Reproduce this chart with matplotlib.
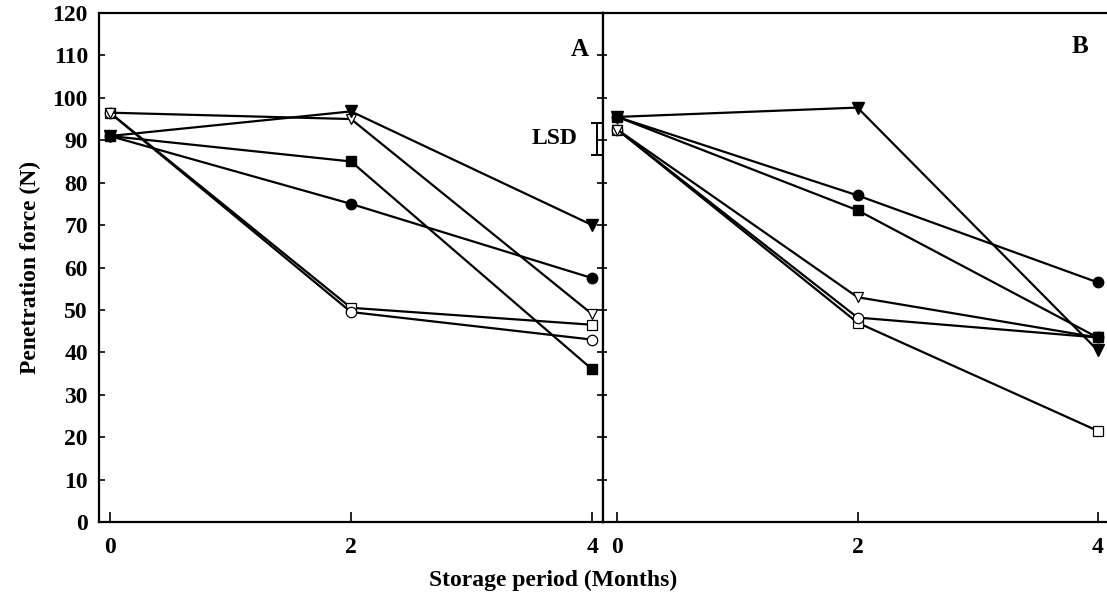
import matplotlib.pyplot as plt

plt.rcParams['font.family'] = 'Liberation Serif'
plt.rcParams['font.weight'] = 'bold'

months = [0, 2, 4]

# Panel A
a_filled_circle = [91, 75, 57.5]
a_filled_square = [91, 85, 36]
a_filled_tri = [91, 96.8, 70]
a_open_tri = [96.5, 95, 49]
a_open_circle = [96.5, 49.5, 43]
a_open_square = [96.5, 50.5, 46.5]

# Panel B
b_filled_circle = [95.5, 77, 56.5]
b_filled_square = [95.5, 73.5, 43.5]
b_filled_tri = [95.5, 97.7, 40.5]
b_open_tri = [92.5, 53, 43.5]
b_open_circle = [92.5, 48.2, 43.5]
b_open_square = [92.5, 47, 21.5]

lsd_center = 90.3
lsd_half = 3.7

fig = plt.figure(figsize=(11.07, 6.01), dpi=100)
W, H = 1107, 601
axA = fig.add_axes([99 / W, 1 - 522 / H, 504 / W, 509 / H])
axB = fig.add_axes([603 / W, 1 - 522 / H, 503 / W, 509 / H])


def draw(ax, fc, fs, ft, ot, oc, osq):
    kw = dict(color='black', linewidth=1.6, markersize=7.5, clip_on=False)
    ax.plot(months, osq, marker='s', markerfacecolor='white', markeredgecolor='black', markeredgewidth=0.9, **kw)
    ax.plot(months, oc, marker='o', markerfacecolor='white', markeredgecolor='black', markeredgewidth=0.9, **kw)
    ax.plot(months, ot, marker='v', markerfacecolor='white', markeredgecolor='black', markeredgewidth=0.9, **kw)
    ax.plot(months, fs, marker='s', markerfacecolor='black', **kw)
    ax.plot(months, fc, marker='o', markerfacecolor='black', **kw)
    ax.plot(months, ft, marker='v', markerfacecolor='black', markersize=8.5,
            **{k: v for k, v in kw.items() if k != 'markersize'})


draw(axA, a_filled_circle, a_filled_square, a_filled_tri, a_open_tri, a_open_circle, a_open_square)
draw(axB, b_filled_circle, b_filled_square, b_filled_tri, b_open_tri, b_open_circle, b_open_square)

axA.set_xlim(-0.09, 4.09)
axB.set_xlim(-0.12, 4.07)
for ax in (axA, axB):
    ax.set_ylim(0, 120)
    ax.set_xticks(months)
    ax.set_yticks(range(0, 121, 10))
    ax.tick_params(axis='x', direction='in', length=7, width=1.2, labelsize=17, pad=11)
    ax.tick_params(axis='y', direction='in', length=4, width=1.2, labelsize=17, pad=8)
    for s in ax.spines.values():
        s.set_linewidth(1.6)

axA.tick_params(axis='y', right=True)
axB.tick_params(axis='y', labelleft=False, length=3)
axB.spines['right'].set_visible(False)

axA.set_ylabel('Penetration force (N)', fontsize=17, fontweight='bold', labelpad=8)
fig.text(553 / W, 1 - 580 / H, 'Storage period (Months)', ha='center', va='center',
         fontsize=17, fontweight='bold')

axA.text(3.9, 111.5, 'A', ha='center', va='center', fontsize=18, fontweight='bold')
axB.text(3.85, 112, 'B', ha='center', va='center', fontsize=18, fontweight='bold')

# LSD bar
axA.errorbar([4.04], [lsd_center], yerr=[lsd_half], color='black', capsize=4,
             elinewidth=1.4, capthick=1.4, clip_on=False)
axA.text(3.88, lsd_center, 'LSD', ha='right', va='center', fontsize=17, fontweight='bold')

fig.savefig('out.png', dpi=100)
